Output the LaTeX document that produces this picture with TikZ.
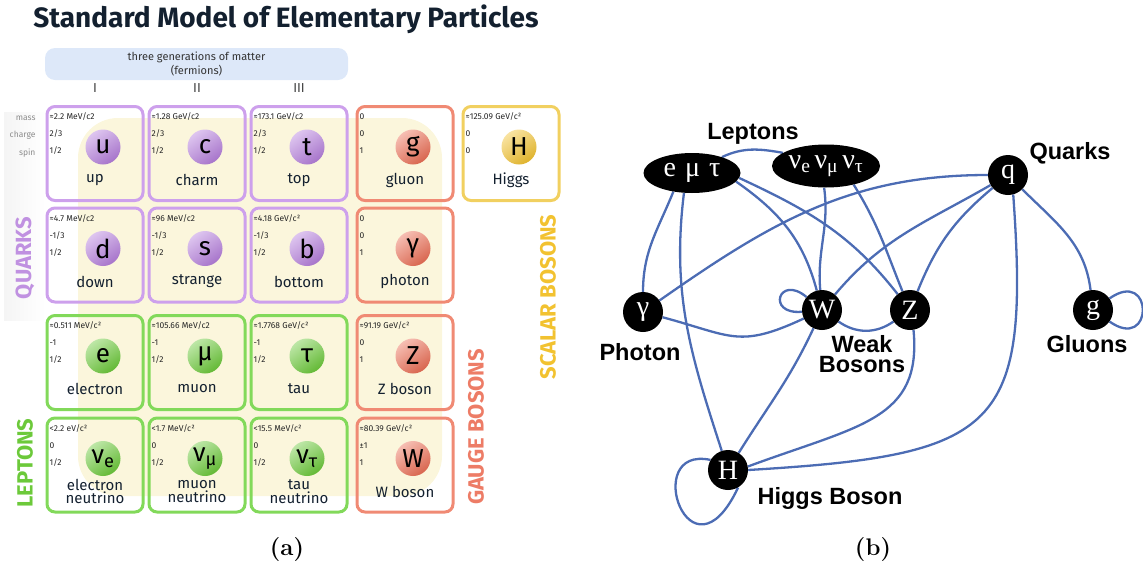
\documentclass[tikz,border=0pt]{standalone}
\usepackage{fontspec}
\usetikzlibrary{shapes.geometric,backgrounds}
\newfontfamily\cardfont{Fira Sans}
\newfontfamily\labfont{Liberation Sans}
\newfontfamily\gfont{Liberation Serif}

\definecolor{quark}{HTML}{B57EDC}
\definecolor{quarkline}{HTML}{CDA0EC}
\definecolor{lepton}{HTML}{6CC93A}
\definecolor{leptonline}{HTML}{82D95A}
\definecolor{gauge}{HTML}{EB6E55}
\definecolor{gaugeline}{HTML}{F08A74}
\definecolor{higgs}{HTML}{F2C230}
\definecolor{higgsline}{HTML}{F1D060}
\definecolor{navy}{HTML}{13202F}
\definecolor{genbox}{HTML}{DDE8F9}
\definecolor{blob}{HTML}{FBF6DC}
\definecolor{linkblue}{HTML}{4C6CB4}

% one box of the table: name, position, family, mass, charge, spin, symbol, label
\newcommand{\smcard}[8]{%
  \node[card=#3] (#1) at (#2) {};
  \node[info] at ([shift={(4,-12)}]#1.north west) {#4};
  \node[info] at ([shift={(4,-29)}]#1.north west) {#5};
  \node[info] at ([shift={(4,-46)}]#1.north west) {#6};
  \node[ball=#3] (#1-s) at ([shift={(8,6.5)}]#1.center) {#7};
  \node[pname] at ([yshift=-26.5]#1.center) {#8};
}

\begin{document}
\begin{tikzpicture}[x=1pt,y=1pt,
    card/.style={draw=#1line,line width=3pt,rounded corners=8pt,minimum width=96pt,minimum height=94pt},
    info/.style={anchor=west,inner sep=0pt,text=black!85,font=\cardfont\fontsize{8.5}{10}\selectfont},
    ball/.style={circle,minimum size=35pt,inner sep=0pt,top color=#1!45!white,bottom color=#1!92!black,
      shading angle=35,font=\cardfont\fontsize{26}{26}\selectfont},
    pname/.style={align=center,inner sep=0pt,text=navy,font=\cardfont\fontsize{15}{13.5}\selectfont},
    side/.style={rotate=90,font=\cardfont\bfseries\fontsize{22}{22}\selectfont},
    pt/.style={circle,fill=black,text=white,minimum size=40pt,inner sep=0pt,font=\gfont\fontsize{28}{28}\selectfont},
    grp/.style={ellipse,fill=black,text=white,inner sep=0pt,font=\gfont\fontsize{28}{28}\selectfont},
    lbl/.style={align=center,inner sep=0pt,font=\labfont\bfseries\fontsize{23.5}{20}\selectfont},
    link/.style={draw=linkblue,line width=2.3pt}]
  \useasboundingbox (0,0) rectangle (1143,-568);
  % --- (a) table ---
  \shade[left color=black!4,right color=white] (4,-112) rectangle (46,-320);
  \fill[blob,rounded corners=40pt] (78,-118) rectangle (442,-496);
  \node[text=navy,font=\cardfont\bfseries\fontsize{28}{32}\selectfont] (title) at (286,-19)
    {Standard Model of Elementary Particles};
  \node[fill=genbox,rounded corners=10pt,minimum width=303pt,minimum height=32pt,align=center,
    text=black!80,font=\cardfont\fontsize{11}{13.5}\selectfont] (gen) at (196.5,-64)
    {three generations of matter\\(fermions)};
  \node[text=black!75,font=\cardfont\fontsize{13}{13}\selectfont] (g1) at (95,-88) {I};
  \node[text=black!75,font=\cardfont\fontsize{13}{13}\selectfont] (g2) at (197,-88) {II};
  \node[text=black!75,font=\cardfont\fontsize{13}{13}\selectfont] (g3) at (299,-88) {III};
  \node[anchor=east,text=black!45,font=\cardfont\fontsize{8.5}{10}\selectfont] (mass) at (39,-118) {mass};
  \node[anchor=east,text=black!45,font=\cardfont\fontsize{8.5}{10}\selectfont] (charge) at (39,-135) {charge};
  \node[anchor=east,text=black!45,font=\cardfont\fontsize{8.5}{10}\selectfont] (spin) at (39,-153) {spin};
  % quarks
  \smcard{up}{95,-153.5}{quark}{≈2.2 MeV/c2}{2/3}{1/2}{u}{up}
  \smcard{charm}{197,-153.5}{quark}{≈1.28 GeV/c2}{2/3}{1/2}{c}{charm}
  \smcard{top}{299,-153.5}{quark}{≈173.1 GeV/c2}{2/3}{1/2}{t}{top}
  \smcard{down}{95,-255}{quark}{≈4.7 MeV/c2}{-1/3}{1/2}{d}{down}
  \smcard{strange}{197,-255}{quark}{≈96 MeV/c2}{-1/3}{1/2}{s}{strange}
  \smcard{bottom}{299,-255}{quark}{≈4.18 GeV/c²}{-1/3}{1/2}{b}{bottom}
  % leptons
  \smcard{electron}{95,-362.5}{lepton}{≈0.511 MeV/c²}{-1}{1/2}{e}{electron}
  \smcard{muon}{197,-362.5}{lepton}{≈105.66 MeV/c2}{-1}{1/2}{μ}{muon}
  \smcard{tau}{299,-362.5}{lepton}{≈1.7768 GeV/c²}{-1}{1/2}{τ}{tau}
  \smcard{nue}{95,-465}{lepton}{<2.2 eV/c²}{0}{1/2}{ν\textsubscript{e}}{electron\\neutrino}
  \smcard{numu}{197,-465}{lepton}{<1.7 MeV/c²}{0}{1/2}{ν\textsubscript{μ}}{muon\\neutrino}
  \smcard{nutau}{299,-465}{lepton}{<15.5 MeV/c²}{0}{1/2}{ν\textsubscript{τ}}{tau\\neutrino}
  % bosons
  \smcard{gluon}{405,-153.5}{gauge}{0}{0}{1}{g}{gluon}
  \smcard{photon}{405,-255}{gauge}{0}{0}{1}{γ}{photon}
  \smcard{zbos}{405,-362.5}{gauge}{≈91.19 GeV/c²}{0}{1}{Z}{Z boson}
  \smcard{wbos}{405,-465}{gauge}{≈80.39 GeV/c²}{±1}{1}{W}{W boson}
  \smcard{higgs}{511,-153.5}{higgs}{≈125.09 GeV/c²}{0}{0}{H}{Higgs}
  % family labels
  \node[side,text=quark!85] (quarks) at (25,-258) {QUARKS};
  \node[side,text=lepton] (leptons) at (25,-463) {LEPTONS};
  \node[side,text=gauge!90!white] (gbos) at (476,-427) {GAUGE BOSONS};
  \node[side,text=higgs] (sbos) at (548,-297) {SCALAR BOSONS};
  % --- (b) graph ---
  \node[grp,minimum width=97pt,minimum height=40pt] (lep) at (692,-173) {e\hspace{9pt}μ\hspace{9pt}τ};
  \node[grp,minimum width=108pt,minimum height=43pt] (neu) at (826,-166)
    {ν\textsubscript{e}\hspace{4pt}ν\textsubscript{μ}\hspace{4pt}ν\textsubscript{τ}};
  \node[pt] (q) at (1008,-175) {q};
  \node[pt] (gam) at (643,-312) {γ};
  \node[pt] (W) at (822,-310) {W};
  \node[pt] (Z) at (910,-310) {Z};
  \node[pt] (g) at (1093,-310) {g};
  \node[pt] (H) at (728,-470) {H};
  \node[lbl] (lepl) at (753,-134) {Leptons};
  \node[lbl] (ql) at (1070,-153) {Quarks};
  \node[lbl] (gaml) at (640,-352) {Photon};
  \node[lbl] (wzl) at (862,-354) {Weak\\Bosons};
  \node[lbl] (gl) at (1087,-344) {Gluons};
  \node[lbl] (hl) at (830,-498) {Higgs Boson};
  \begin{scope}[on background layer]
    \draw[link] (lep.28) to[out=25,in=170] (neu.163);
    \draw[link] (lep.-135) to[out=-112,in=90] (gam);
    \draw[link] (lep.-112) to[out=-97,in=108] (H);
    \draw[link] (lep.-11) to[out=-35,in=105] (W);
    \draw[link] (lep.-6) to[out=-25,in=128] (Z);
    \draw[link] (neu.-95) to[out=-82,in=95] (W);
    \draw[link] (neu.-34) to[out=-58,in=112] (Z);
    \draw[link] (q) to[out=180,in=35] (gam);
    \draw[link] (q) to[out=-150,in=50] (W);
    \draw[link] (q) to[out=-140,in=68] (Z);
    \draw[link] (q.-75) .. controls (1030,-430) and (1000,-455) .. (H.0);
    \draw[link] (q) to[out=-45,in=97] (g);
    \draw[link] (g) to[out=35,in=-35,looseness=6] (g);
    \draw[link] (W) to[out=140,in=185,looseness=6] (W);
    \draw[link] (gam) to[out=-15,in=-155,looseness=1.3] (W);
    \draw[link] (W) to[out=-35,in=-145] (Z);
    \draw[link] (W) to[out=-115,in=58] (H);
    \draw[link] (Z.-80) .. controls (922,-420) and (860,-425) .. (H.10);
    \draw[link] (H.150) .. controls (640,-445) and (690,-590) .. (H.-60);
  \end{scope}
  % captions
  \node[font=\fontsize{24}{28}\selectfont\bfseries] (capa) at (287,-550) {(a)};
  \node[font=\fontsize{24}{28}\selectfont\bfseries] (capb) at (873,-550) {(b)};
\end{tikzpicture}
\end{document}
